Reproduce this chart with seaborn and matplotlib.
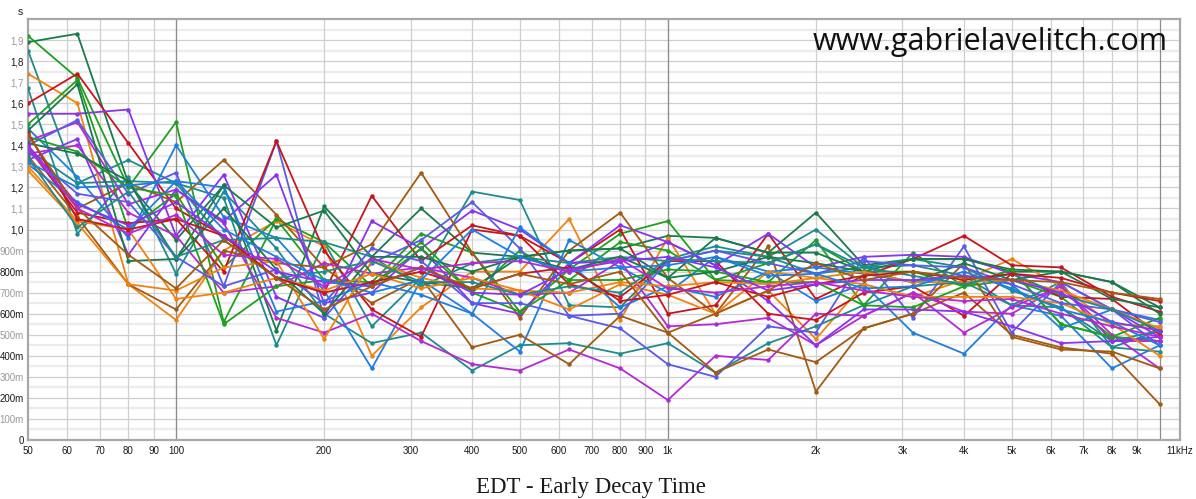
import numpy as np
import pandas as pd
import matplotlib
matplotlib.use("Agg")
import matplotlib.pyplot as plt
import seaborn as sns

# 1/3-octave band centre frequencies (Hz)
freqs = [50, 63, 80, 100, 125, 160, 200, 250, 315, 400, 500, 630,
         800, 1000, 1250, 1600, 2000, 2500, 3150, 4000, 5000, 6300, 8000, 10000]

# EDT per measurement position (s)
dkgreen_a = [1.89, 1.93, 1.22, 0.95, 1.21, 0.52, 1.11, 0.87, 1.10, 0.89, 0.87, 0.90, 0.91, 0.97, 0.96, 0.89, 1.08, 0.83, 0.86, 0.86, 0.80, 0.80, 0.75, 0.63]
green_a = [1.92, 1.72, 1.20, 1.51, 0.56, 1.05, 0.76, 0.75, 0.98, 0.89, 0.61, 0.81, 0.98, 1.04, 0.76, 0.75, 0.95, 0.64, 0.89, 0.73, 0.81, 0.55, 0.49, 0.47]
teal_a = [1.85, 1.22, 1.33, 1.22, 1.15, 0.45, 0.94, 0.54, 0.77, 1.18, 1.14, 0.64, 0.63, 0.86, 0.92, 0.87, 1.00, 0.82, 0.83, 0.78, 0.64, 0.75, 0.44, 0.42]
orange_a = [1.74, 1.60, 0.74, 0.57, 0.90, 1.04, 0.92, 0.40, 0.63, 0.80, 0.80, 1.05, 0.57, 0.96, 0.60, 0.71, 0.48, 0.74, 0.68, 0.76, 0.86, 0.73, 0.55, 0.54]
teal_b = [1.67, 0.98, 1.25, 0.79, 1.18, 0.91, 0.60, 0.46, 0.51, 0.33, 0.45, 0.46, 0.41, 0.46, 0.32, 0.46, 0.54, 0.64, 0.73, 0.75, 0.64, 0.63, 0.44, 0.52]
red_a = [1.60, 1.74, 1.41, 1.10, 0.97, 0.77, 0.70, 1.16, 0.85, 1.02, 0.97, 0.84, 1.00, 0.60, 0.64, 0.98, 0.67, 0.78, 0.86, 0.97, 0.83, 0.82, 0.68, 0.61]
violet_a = [1.55, 1.55, 1.57, 0.97, 1.26, 0.68, 0.58, 1.04, 0.91, 1.09, 1.00, 0.84, 1.02, 0.94, 0.83, 0.98, 0.82, 0.87, 0.88, 0.87, 0.79, 0.75, 0.62, 0.49]
green_b = [1.50, 1.71, 1.00, 1.17, 0.82, 1.05, 0.94, 0.73, 0.94, 0.70, 0.90, 0.76, 0.94, 0.90, 0.76, 0.84, 0.93, 0.80, 0.80, 0.73, 0.76, 0.68, 0.49, 0.47]
blue_a = [1.48, 1.25, 0.96, 1.40, 1.06, 0.96, 0.71, 0.34, 0.76, 0.60, 0.42, 0.95, 0.82, 0.70, 0.87, 0.80, 0.66, 0.74, 0.51, 0.41, 0.64, 0.59, 0.34, 0.45]
brown_a = [1.45, 1.10, 1.22, 1.13, 1.33, 1.07, 0.82, 0.93, 1.27, 0.89, 0.58, 0.90, 1.08, 0.77, 0.60, 0.92, 0.23, 0.53, 0.60, 0.70, 0.50, 0.44, 0.41, 0.17]
magenta_a = [1.42, 1.51, 1.12, 1.19, 1.03, 0.58, 0.51, 0.60, 0.47, 0.36, 0.33, 0.43, 0.34, 0.19, 0.40, 0.38, 0.60, 0.59, 0.70, 0.51, 0.63, 0.73, 0.50, 0.34]
slate_a = [1.40, 1.52, 1.17, 1.27, 0.73, 1.42, 0.58, 0.84, 0.95, 1.13, 0.91, 0.59, 0.53, 0.36, 0.30, 0.54, 0.51, 0.87, 0.58, 0.92, 0.51, 0.75, 0.62, 0.45]
red_b = [1.39, 1.08, 1.03, 1.05, 0.80, 1.42, 0.90, 0.62, 0.49, 1.00, 0.97, 0.74, 0.68, 0.85, 0.85, 0.60, 0.57, 0.70, 0.73, 0.59, 0.79, 0.68, 0.67, 0.50]
teal_c = [1.38, 1.22, 1.23, 1.22, 0.95, 0.96, 0.94, 0.87, 0.73, 0.84, 0.87, 0.84, 0.87, 0.85, 0.90, 0.87, 0.79, 0.82, 0.86, 0.82, 0.71, 0.63, 0.47, 0.52]
magenta_b = [1.36, 1.40, 1.08, 0.97, 0.70, 0.73, 0.84, 0.79, 0.82, 0.77, 0.69, 0.70, 0.85, 0.54, 0.55, 0.58, 0.45, 0.59, 0.70, 0.61, 0.60, 0.73, 0.47, 0.47]
brown_b = [1.35, 1.06, 0.74, 0.62, 0.90, 0.84, 0.82, 0.65, 0.77, 0.44, 0.50, 0.36, 0.59, 0.51, 0.32, 0.43, 0.37, 0.53, 0.60, 0.84, 0.49, 0.43, 0.42, 0.34]
violet_b = [1.33, 1.43, 0.88, 1.19, 1.04, 1.26, 0.65, 0.70, 0.91, 0.65, 0.60, 0.84, 0.85, 0.94, 0.83, 0.66, 0.45, 0.62, 0.62, 0.61, 0.54, 0.46, 0.47, 0.49]
blue_b = [1.31, 1.13, 1.00, 1.23, 1.20, 0.61, 0.66, 0.75, 0.69, 0.60, 1.01, 0.84, 0.63, 0.73, 0.68, 0.80, 0.82, 0.79, 0.75, 0.78, 0.74, 0.53, 0.62, 0.57]
orange_b = [1.28, 1.03, 0.74, 0.71, 0.82, 0.85, 0.48, 0.85, 0.77, 0.72, 0.71, 0.62, 0.74, 0.69, 0.60, 0.80, 0.77, 0.74, 0.68, 0.68, 0.68, 0.65, 0.55, 0.40]
dkgreen_b = [1.47, 1.69, 0.85, 0.86, 1.21, 1.01, 1.09, 0.79, 0.75, 0.72, 0.87, 0.90, 0.91, 0.77, 0.96, 0.89, 0.89, 0.80, 0.86, 0.86, 0.81, 0.80, 0.75, 0.60]
green_c = [1.44, 1.37, 1.20, 1.16, 0.55, 0.73, 0.76, 0.73, 0.91, 0.70, 0.61, 0.76, 0.76, 0.81, 0.80, 0.75, 0.75, 0.64, 0.63, 0.73, 0.81, 0.55, 0.49, 0.58]
dkgreen_c = [1.41, 1.36, 1.23, 0.86, 1.10, 0.81, 0.60, 0.87, 0.87, 0.80, 0.87, 0.81, 0.87, 0.77, 0.80, 0.87, 0.84, 0.80, 0.75, 0.84, 0.76, 0.80, 0.67, 0.63]
slate_b = [1.37, 1.17, 1.13, 0.87, 0.73, 0.81, 0.65, 0.91, 0.85, 0.65, 0.65, 0.59, 0.60, 0.85, 0.90, 0.84, 0.79, 0.85, 0.83, 0.82, 0.74, 0.65, 0.62, 0.56]
orange_c = [1.30, 1.04, 1.00, 0.67, 0.70, 0.77, 0.71, 0.79, 0.72, 0.77, 0.71, 0.70, 0.75, 0.73, 0.75, 0.74, 0.77, 0.80, 0.75, 0.75, 0.76, 0.71, 0.62, 0.53]
teal_d = [1.34, 1.01, 1.18, 0.87, 0.95, 0.77, 0.80, 0.85, 0.75, 0.75, 0.69, 0.73, 0.70, 0.86, 0.85, 0.84, 0.93, 0.82, 0.78, 0.74, 0.79, 0.69, 0.62, 0.52]
red_c = [1.46, 1.05, 1.00, 1.05, 0.97, 0.77, 0.70, 0.75, 0.80, 0.72, 0.79, 0.82, 0.66, 0.69, 0.75, 0.68, 0.74, 0.78, 0.80, 0.76, 0.79, 0.77, 0.70, 0.66]
violet_c = [1.40, 1.12, 1.02, 1.13, 0.97, 0.80, 0.75, 0.73, 0.82, 0.70, 0.69, 0.81, 0.85, 0.87, 0.82, 0.71, 0.74, 0.76, 0.76, 0.78, 0.76, 0.70, 0.56, 0.52]
blue_c = [1.32, 1.20, 1.21, 1.23, 1.00, 0.87, 0.76, 0.70, 0.76, 1.00, 0.87, 0.80, 0.82, 0.83, 0.87, 0.78, 0.79, 0.72, 0.73, 0.80, 0.72, 0.62, 0.56, 0.45]
brown_c = [1.45, 1.10, 0.88, 0.72, 0.95, 0.77, 0.62, 0.73, 0.82, 0.72, 0.79, 0.74, 0.80, 0.51, 0.60, 0.71, 0.84, 0.76, 0.80, 0.77, 0.76, 0.75, 0.70, 0.67]
magenta_c = [1.39, 1.10, 0.98, 1.07, 0.88, 0.86, 0.73, 0.86, 0.81, 0.84, 0.85, 0.80, 0.86, 0.72, 0.70, 0.73, 0.75, 0.71, 0.68, 0.66, 0.67, 0.60, 0.54, 0.49]

series = {
    "dkgreen_a": dkgreen_a, "green_a": green_a, "teal_a": teal_a, "orange_a": orange_a,
    "teal_b": teal_b, "red_a": red_a, "violet_a": violet_a, "green_b": green_b,
    "blue_a": blue_a, "brown_a": brown_a, "magenta_a": magenta_a, "slate_a": slate_a,
    "red_b": red_b, "teal_c": teal_c, "magenta_b": magenta_b, "brown_b": brown_b,
    "violet_b": violet_b, "blue_b": blue_b, "orange_b": orange_b, "dkgreen_b": dkgreen_b,
    "green_c": green_c, "dkgreen_c": dkgreen_c, "slate_b": slate_b, "orange_c": orange_c,
    "teal_d": teal_d, "red_c": red_c, "violet_c": violet_c, "blue_c": blue_c,
    "brown_c": brown_c, "magenta_c": magenta_c,
}

base_colors = {
    "red": "#c8141e", "dkgreen": "#1b7a4c", "blue": "#1f7fde", "orange": "#f0820f",
    "violet": "#8a32f0", "teal": "#1e8c8c", "green": "#1fa01f", "brown": "#a35a12",
    "magenta": "#b42ad2", "slate": "#5a5ae6",
}
palette = {name: base_colors[name.split("_")[0]] for name in series}

df = pd.concat(
    [pd.DataFrame({"freq": freqs, "edt": vals, "pos": name}) for name, vals in series.items()],
    ignore_index=True,
)

sns.set_theme(style="white")
plt.rcParams["font.family"] = ["Liberation Sans", "DejaVu Sans"]

fig = plt.figure(figsize=(11.96, 4.99), dpi=100)
ax = fig.add_axes([28 / 1196, 59 / 499, 1152 / 1196, 421 / 499])

sns.lineplot(data=df, x="freq", y="edt", hue="pos", palette=palette, units="pos",
             estimator=None, marker="o", markersize=3.2, markeredgewidth=0,
             linewidth=1.3, legend=False, ax=ax, zorder=3)

ax.set_xscale("log")
ax.set_xlim(50, 11000)
ax.set_ylim(0, 2.0)

# horizontal grid: darker every 0.1 s, light band every 0.05 s
for v in np.arange(0.05, 2.0, 0.1):
    ax.axhline(v, color="#ececec", lw=1.6, zorder=0)
for v in np.arange(0.1, 2.0, 0.1):
    ax.axhline(v, color="#cfcfcf", lw=0.9, zorder=0)

xticks = [50, 60, 70, 80, 90, 100, 200, 300, 400, 500, 600, 700, 800, 900,
          1000, 2000, 3000, 4000, 5000, 6000, 7000, 8000, 9000, 11000]
xlabels = ["50", "60", "70", "80", "90", "100", "200", "300", "400", "500", "600",
           "700", "800", "900", "1k", "2k", "3k", "4k", "5k", "6k", "7k", "8k", "9k", "11kHz"]
for f in xticks[1:-1]:
    ax.axvline(f, color="#cfcfcf", lw=0.9, zorder=0)
for f in [100, 1000, 10000]:
    ax.axvline(f, color="#8c8c8c", lw=0.9, zorder=1)

ax.xaxis.set_minor_locator(matplotlib.ticker.NullLocator())
ax.set_xticks(xticks)
ax.set_xticklabels(xlabels)

yticks = np.round(np.arange(0, 2.0, 0.1), 2)
ylabels = []
for v in yticks:
    if v == 0:
        ylabels.append("0")
    elif v < 1:
        ylabels.append(f"{int(round(v * 1000))}m")
    else:
        ylabels.append(f"{v:.1f}".replace(".", ","))
ax.set_yticks(yticks)
ax.set_yticklabels(ylabels)
for i, lab in enumerate(ax.get_yticklabels()):
    lab.set_color("#1a1a1a" if i % 2 == 0 else "#9a9a9a")
for lab in ax.get_xticklabels():
    lab.set_color("#1a1a1a")

ax.tick_params(axis="both", length=0, labelsize=7)
ax.tick_params(axis="y", pad=3)
ax.tick_params(axis="x", pad=4)
ax.set_xlabel("")
ax.set_ylabel("")

for sp in ax.spines.values():
    sp.set_color("#a8a8a8")
    sp.set_linewidth(1.6)
    sp.set_visible(True)

fig.text(20 / 1196, 1 - 12 / 499, "s", fontsize=7.5, color="#1a1a1a", ha="center", va="center")

fig.text(1168 / 1196, 1 - 42 / 499, "www.gabrielavelitch.com",
         ha="right", va="center", fontsize=22, color="#111111",
         family=["Open Sans", "DejaVu Sans"], zorder=5)

fig.text(591 / 1196, 1 - 488 / 499, "EDT - Early Decay Time", ha="center", va="center",
         fontsize=16.5, color="#1a1a1a", family=["Liberation Serif", "DejaVu Serif"])

fig.savefig("out.png", dpi=100)
